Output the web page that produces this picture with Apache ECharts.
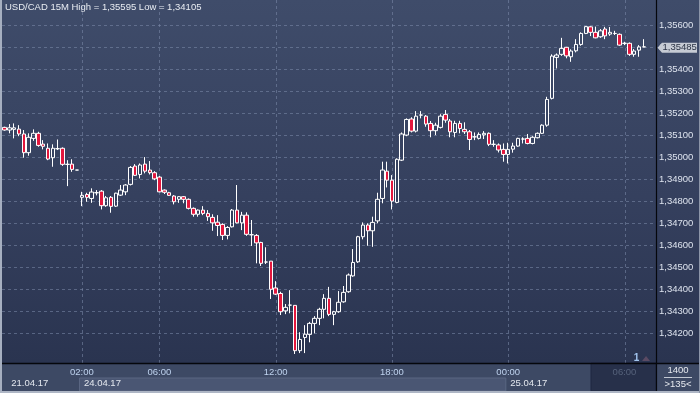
<!DOCTYPE html>
<html><head><meta charset="utf-8">
<script src="https://cdn.jsdelivr.net/npm/echarts/dist/echarts.min.js"></script>
<style>html,body{margin:0;padding:0;background:#2b3550;}#c{width:700px;height:393px;}</style>
</head><body><div id="c"></div><script>
// ---- data (USD/CAD 15M candles) ----
const opens=[1.35135,1.35123,1.35126,1.35127,1.35105,1.35020,1.35085,1.35108,1.35059,1.35040,
1.34997,1.35038,1.35040,1.34967,1.34968,1.34941,1.34817,1.34830,1.34812,1.34838,
1.34845,1.34779,1.34817,1.34777,1.34827,1.34842,1.34876,1.34959,1.34921,1.34968,
1.34941,1.34929,1.34909,1.34850,1.34838,1.34823,1.34808,1.34820,1.34808,1.34767,
1.34740,1.34759,1.34744,1.34726,1.34704,1.34694,1.34644,1.34683,1.34759,1.34701,
1.34736,1.34647,1.34644,1.34612,1.34523,1.34527,1.34405,1.34380,1.34301,1.34327,
1.34326,1.34120,1.34180,1.34194,1.34244,1.34267,1.34308,1.34358,1.34285,1.34297,
1.34342,1.34388,1.34460,1.34524,1.34638,1.34691,1.34665,1.34710,1.34812,1.34936,
1.34895,1.34794,1.34986,1.35100,1.35173,1.35118,1.35191,1.35186,1.35153,1.35120,
1.35135,1.35194,1.35164,1.35112,1.35153,1.35126,1.35115,1.35092,1.35085,1.35101,
1.35108,1.35058,1.35055,1.35035,1.35012,1.35036,1.35050,1.35082,1.35085,1.35062,
1.35088,1.35108,1.35145,1.35267,1.35453,1.35467,1.35499,1.35456,1.35483,1.35512,
1.35562,1.35592,1.35567,1.35547,1.35582,1.35559,1.35562,1.35558,1.35517,1.35517,
1.35467,1.35486,1.35501];
const closes=[1.35123,1.35133,1.35133,1.35105,1.35020,1.35090,1.35108,1.35053,1.35049,1.34991,
1.35040,1.35038,1.34967,1.34967,1.34944,1.34941,1.34826,1.34817,1.34841,1.34838,
1.34779,1.34815,1.34776,1.34836,1.34850,1.34873,1.34953,1.34917,1.34964,1.34936,
1.34929,1.34901,1.34842,1.34840,1.34826,1.34797,1.34820,1.34808,1.34767,1.34740,
1.34759,1.34744,1.34729,1.34701,1.34689,1.34644,1.34680,1.34759,1.34701,1.34736,
1.34649,1.34647,1.34610,1.34517,1.34523,1.34399,1.34377,1.34297,1.34317,1.34327,
1.34120,1.34171,1.34195,1.34244,1.34267,1.34308,1.34358,1.34285,1.34297,1.34340,
1.34385,1.34464,1.34521,1.34638,1.34691,1.34665,1.34703,1.34808,1.34941,1.34895,
1.34800,1.34990,1.35105,1.35171,1.35118,1.35186,1.35191,1.35150,1.35120,1.35145,
1.35186,1.35168,1.35115,1.35153,1.35130,1.35115,1.35080,1.35092,1.35103,1.35108,
1.35058,1.35058,1.35032,1.35012,1.35035,1.35050,1.35085,1.35082,1.35062,1.35090,
1.35108,1.35145,1.35262,1.35459,1.35464,1.35494,1.35460,1.35482,1.35512,1.35562,
1.35593,1.35567,1.35542,1.35574,1.35551,1.35567,1.35562,1.35509,1.35517,1.35467,
1.35482,1.35501,1.35501];
const lows=[1.35120,1.35108,1.35085,1.35095,1.34997,1.35006,1.35074,1.35047,1.35035,1.34986,
1.34956,1.35032,1.34960,1.34868,1.34933,1.34941,1.34777,1.34797,1.34792,1.34826,
1.34762,1.34774,1.34747,1.34773,1.34823,1.34827,1.34871,1.34914,1.34903,1.34926,
1.34921,1.34895,1.34840,1.34832,1.34823,1.34785,1.34792,1.34790,1.34762,1.34729,
1.34729,1.34736,1.34710,1.34665,1.34641,1.34623,1.34626,1.34680,1.34699,1.34668,
1.34642,1.34596,1.34517,1.34505,1.34514,1.34355,1.34373,1.34282,1.34286,1.34290,
1.34105,1.34109,1.34109,1.34158,1.34199,1.34236,1.34267,1.34277,1.34236,1.34292,
1.34338,1.34383,1.34456,1.34519,1.34626,1.34597,1.34592,1.34699,1.34790,1.34862,
1.34762,1.34790,1.34982,1.35095,1.35112,1.35112,1.35176,1.35138,1.35090,1.35100,
1.35130,1.35156,1.35090,1.35090,1.35108,1.35105,1.35032,1.35077,1.35080,1.35082,
1.35050,1.35047,1.35021,1.34979,1.34971,1.35020,1.35047,1.35062,1.35058,1.35058,
1.35085,1.35105,1.35138,1.35262,1.35403,1.35460,1.35449,1.35433,1.35476,1.35506,
1.35559,1.35550,1.35540,1.35542,1.35536,1.35551,1.35555,1.35506,1.35509,1.35460,
1.35456,1.35456,1.35499];
const highs=[1.35138,1.35150,1.35153,1.35145,1.35123,1.35108,1.35126,1.35115,1.35077,1.35062,
1.35058,1.35080,1.35044,1.34986,1.34990,1.34941,1.34842,1.34838,1.34858,1.34850,
1.34850,1.34823,1.34823,1.34838,1.34873,1.34877,1.34959,1.34968,1.34971,1.35000,
1.34982,1.34936,1.34914,1.34853,1.34842,1.34827,1.34823,1.34823,1.34812,1.34771,
1.34762,1.34777,1.34759,1.34740,1.34736,1.34699,1.34686,1.34764,1.34873,1.34751,
1.34749,1.34714,1.34650,1.34615,1.34590,1.34527,1.34436,1.34388,1.34332,1.34395,
1.34326,1.34204,1.34236,1.34251,1.34277,1.34315,1.34377,1.34410,1.34301,1.34391,
1.34414,1.34471,1.34582,1.34642,1.34703,1.34699,1.34729,1.34838,1.34979,1.34979,
1.34918,1.34994,1.35112,1.35176,1.35181,1.35209,1.35209,1.35191,1.35164,1.35156,
1.35195,1.35214,1.35173,1.35165,1.35165,1.35158,1.35123,1.35112,1.35112,1.35118,
1.35112,1.35077,1.35062,1.35062,1.35065,1.35065,1.35088,1.35090,1.35105,1.35095,
1.35112,1.35149,1.35274,1.35467,1.35471,1.35542,1.35501,1.35490,1.35536,1.35567,
1.35595,1.35595,1.35593,1.35582,1.35592,1.35591,1.35574,1.35562,1.35524,1.35521,
1.35491,1.35509,1.35536];

const slotCount = 135;                       // visible bar slots (">135<")
const timeTickIndex  = [16, 32, 56, 80, 104, 128];
const timeTickLabels = ['02:00','06:00','12:00','18:00','00:00','06:00'];
const dateTickIndex  = [1, 16, 104];
const dateTickLabels = ['21.04.17','24.04.17','25.04.17'];
const priceTicks = [1.342,1.343,1.344,1.345,1.346,1.347,1.348,1.349,1.350,1.351,1.352,1.353,1.354,1.355,1.356];
const titleText = 'USD/CAD 15M High = 1,35595 Low = 1,34105';
const lastPriceText = '1,35485';
const infoTexts = ['1400', '>135<'];
const markerText = '1';

// ---- chart ----
const FONT = "'Liberation Sans', Arial, sans-serif";
const categories = Array.from({length: slotCount}, (_, i) => String(i));
const candleData = opens.map((o, i) => [o, closes[i], lows[i], highs[i]]);
const fmtPrice = v => v.toFixed(5).replace('.', ',');

const chart = echarts.init(document.getElementById('c'), null, {renderer: 'canvas'});
const option = {
  animation: false,
  backgroundColor: new echarts.graphic.LinearGradient(0, 0, 0, 1, [
    {offset: 0, color: '#3f4c6a'}, {offset: 0.5, color: '#35405e'}, {offset: 0.92, color: '#2a3450'}, {offset: 1, color: '#2a3450'}]),
  title: {text: titleText, left: 5, top: 2, padding: 0,
    textStyle: {color: '#e8ecf2', fontSize: 9.5, fontWeight: 'normal', fontFamily: FONT}},
  grid: {left: 2, right: 44, top: 0, bottom: 30, containLabel: false, outerBoundsMode: 'none'},
  xAxis: [{
    type: 'category', data: categories, boundaryGap: true,
    axisLine: {show: false}, axisTick: {show: false}, splitLine: {show: false},
    axisLabel: {
      interval: (i) => timeTickIndex.includes(i),
      formatter: (v) => { const k = timeTickIndex.indexOf(Number(v)); return k >= 0 ? timeTickLabels[k] : ''; },
      color: (v) => Number(v) === 128 ? '#56627b' : '#bfd3ef',
      margin: 4, fontSize: 9.5, fontFamily: FONT, hideOverlap: false
    }
  }, {
    type: 'category', data: categories, boundaryGap: true, position: 'bottom', offset: 13,
    axisLine: {show: false}, axisTick: {show: false}, splitLine: {show: false},
    axisLabel: {
      interval: (i) => dateTickIndex.includes(i),
      formatter: (v) => { const k = dateTickIndex.indexOf(Number(v)); return k >= 0 ? dateTickLabels[k] : ''; },
      align: 'left', padding: [0, 0, 0, 2],
      color: '#e4e8ef', margin: 2, fontSize: 9.5, fontFamily: FONT, hideOverlap: false
    }
  }],
  yAxis: {
    type: 'value', position: 'right', scale: true,
    min: 1.34064, max: 1.35714, splitNumber: 16, minInterval: 0.001, maxInterval: 0.001,
    axisLine: {show: false}, axisTick: {show: false}, splitLine: {show: false},
    axisLabel: {
      margin: 3, color: '#dde3ee', fontSize: 9.5, fontFamily: FONT,
      showMinLabel: false, showMaxLabel: false,
      formatter: (v) => priceTicks.some(t => Math.abs(t - v) < 1e-7) ? fmtPrice(v) : ''
    }
  },
  series: [{
    type: 'candlestick', data: candleData, barWidth: 4, z: 3, silent: true,
    itemStyle: {color: 'rgba(0,0,0,0)', color0: '#e3173d', borderColor: '#ffffff', borderColor0: '#ffffff',
      borderColorDoji: '#ffffff', borderWidth: 1}
  }]
};
chart.setOption(option);

// ---- grid lines / frame / decorations positioned from the axes ----
const px = (i) => chart.convertToPixel({xAxisIndex: 0}, String(i));
const py = (v) => chart.convertToPixel({yAxisIndex: 0}, v);
const slotW = px(1) - px(0);
const stripA = px(dateTickIndex[1]) - slotW / 2;
const stripB = px(dateTickIndex[2]) - slotW / 2;
const tagY = py(closes[closes.length - 1]) + 1;
const markX = px(131);
const gridLeft = 2, gridRight = 656, gridBottom = 363;
const gridStyle = {stroke: 'rgba(125,140,172,0.55)', lineWidth: 1, lineDash: [3, 3]};

const graphics = [
  {type: 'rect', z: -5, silent: true, shape: {x: 0, y: gridBottom, width: 700, height: 30}, style: {fill: '#3d4964'}},
  {type: 'rect', z: -4, silent: true, shape: {x: stripA, y: 378, width: stripB - stripA, height: 13}, style: {fill: '#4a5673', stroke: '#5a6682', lineWidth: 1}},
  {type: 'rect', z: -4, silent: true, shape: {x: 591, y: gridBottom, width: gridRight - 591, height: 28}, style: {fill: '#27304a', stroke: '#1f2740', lineWidth: 1}},
  {type: 'line', z: 50, silent: true, shape: {x1: 0, y1: gridBottom + 0.5, x2: 700, y2: gridBottom + 0.5}, style: {stroke: '#05070c', lineWidth: 1.5}},
  {type: 'line', z: 50, silent: true, shape: {x1: gridRight + 0.5, y1: 0, x2: gridRight + 0.5, y2: 391}, style: {stroke: '#05070c', lineWidth: 1.2}},
  {type: 'rect', z: 50, silent: true, shape: {x: 0, y: 0, width: 2, height: 393}, style: {fill: '#a6afc0'}},
  {type: 'rect', z: 50, silent: true, shape: {x: 0, y: 391, width: 700, height: 2}, style: {fill: '#aeb6c5'}},
  {type: 'rect', z: 50, silent: true, shape: {x: 699, y: 0, width: 1, height: 393}, style: {fill: '#8c95a8'}},
  {type: 'text', z: 50, silent: true, style: {x: 678, y: 370.5, text: infoTexts[0], fill: '#e6e9ef', font: '9.5px ' + FONT, textAlign: 'center', textVerticalAlign: 'middle'}},
  {type: 'line', z: 50, silent: true, shape: {x1: 664, y1: 377.5, x2: 692, y2: 377.5}, style: {stroke: '#c2c8d3', lineWidth: 1}},
  {type: 'text', z: 50, silent: true, style: {x: 678, y: 384.5, text: infoTexts[1], fill: '#e6e9ef', font: '9.5px ' + FONT, textAlign: 'center', textVerticalAlign: 'middle'}},
  {type: 'polygon', z: 60, silent: true, shape: {points: [[657.5, tagY], [662, tagY - 5], [697, tagY - 5], [697, tagY + 5], [662, tagY + 5]]}, style: {fill: '#c6cbd4'}},
  {type: 'text', z: 61, silent: true, style: {x: 662.5, y: tagY, text: lastPriceText, fill: '#2a3244', font: '9.5px ' + FONT, textAlign: 'left', textVerticalAlign: 'middle'}},
  {type: 'text', z: 50, silent: true, style: {x: markX - 2.5, y: 358, text: markerText, fill: '#a3c6f0', font: 'bold 10px ' + FONT, textAlign: 'center', textVerticalAlign: 'middle'}},
  {type: 'polygon', z: 50, silent: true, shape: {points: [[markX + 3, 361], [markX + 7, 356], [markX + 11, 361]]}, style: {fill: '#5a4a63'}}
];
priceTicks.forEach(v => {
  const y = Math.round(py(v)) + 0.5;
  graphics.push({type: 'line', z: -3, silent: true, shape: {x1: gridLeft, y1: y, x2: gridRight, y2: y}, style: gridStyle});
});
timeTickIndex.forEach(i => {
  const x = Math.round(px(i)) + 0.5;
  graphics.push({type: 'line', z: -3, silent: true, shape: {x1: x, y1: 0, x2: x, y2: gridBottom}, style: gridStyle});
});
chart.setOption({graphic: graphics});
</script></body></html>
